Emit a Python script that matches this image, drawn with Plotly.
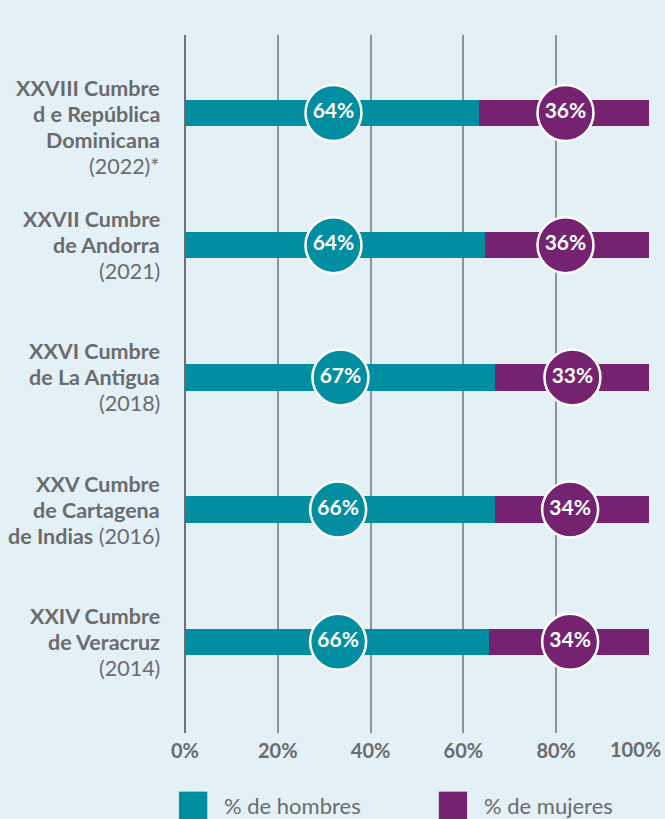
import plotly.graph_objects as go

# ---- data ----
cumbres = [
    ["<b>XXVIII Cumbre</b>", "<b>d e República</b>", "<b>Dominicana</b>", "(2022)*"],
    ["<b>XXVII Cumbre</b>", "<b>de Andorra</b>", "(2021)"],
    ["<b>XXVI Cumbre</b>", "<b>de La Antigua</b>", "(2018)"],
    ["<b>XXV Cumbre</b>", "<b>de Cartagena</b>", "<b>de Indias</b> (2016)"],
    ["<b>XXIV Cumbre</b>", "<b>de Veracruz</b>", "(2014)"],
]
hombres_bar = [63.4, 64.7, 66.9, 66.8, 65.6]
mujeres_bar = [36.6, 35.3, 33.1, 33.2, 34.4]
hombres_label = [64, 64, 67, 66, 66]
mujeres_label = [36, 36, 33, 34, 34]
x_ticks = [0, 20, 40, 60, 80, 100]
x_ticklabels = ["0%", "20%", "40%", "60%", "80%", "100%"]
series_names = ["% de hombres", "% de mujeres"]

TEAL = "#008ea0"
PURPLE = "#752270"
BG = "#e3f1f7"
GREY = "#6b6b6b"
FONT = "Lato"

rows = list(range(len(cumbres)))

fig = go.Figure()
fig.add_trace(go.Bar(y=rows, x=hombres_bar, orientation="h", width=0.2,
                     marker=dict(color=TEAL, line=dict(width=0)),
                     name=series_names[0], hoverinfo="skip"))
fig.add_trace(go.Bar(y=rows, x=mujeres_bar, orientation="h", width=0.2,
                     marker=dict(color=PURPLE, line=dict(width=0)),
                     name=series_names[1], hoverinfo="skip"))

# circles with labels
fig.add_trace(go.Scatter(
    x=[h / 2 for h in hombres_label], y=rows, mode="markers+text",
    marker=dict(size=56, color=TEAL, line=dict(color="white", width=2.5)),
    text=[f"{v}%" for v in hombres_label], textposition="middle center",
    textfont=dict(family=FONT, size=21, color="white", weight="bold"),
    hoverinfo="skip", showlegend=False, cliponaxis=False))
fig.add_trace(go.Scatter(
    x=[h + m / 2 for h, m in zip(hombres_label, mujeres_label)], y=rows,
    mode="markers+text",
    marker=dict(size=56, color=PURPLE, line=dict(color="white", width=2.5)),
    text=[f"{v}%" for v in mujeres_label], textposition="middle center",
    textfont=dict(family=FONT, size=21, color="white", weight="bold"),
    hoverinfo="skip", showlegend=False, cliponaxis=False))

# category labels, one annotation per line
LINE = 26
for i, lines in enumerate(cumbres):
    n = len(lines)
    start = 25 if n == 4 else LINE
    for j, txt in enumerate(lines):
        fig.add_annotation(x=0, xref="paper", y=i, yref="y", text=txt,
                           xanchor="right", yanchor="middle", align="right",
                           xshift=-23, yshift=start - j * LINE, showarrow=False,
                           font=dict(family=FONT, size=21.5, color=GREY))

# the last tick label sits flush against the right edge
tick_text_axis = x_ticklabels[:-1] + [""]
fig.add_annotation(x=x_ticks[-1], xref="x", y=0, yref="paper",
                   text=x_ticklabels[-1], xanchor="right", yanchor="top",
                   xshift=14, yshift=-2, showarrow=False,
                   font=dict(family=FONT, size=20, color=GREY, weight="bold"))

# custom legend
legend_items = [(series_names[0], TEAL, -0.013), (series_names[1], PURPLE, 0.547)]
for name, col, x0 in legend_items:
    fig.add_shape(type="rect", xref="paper", yref="paper",
                  x0=x0, x1=x0 + 0.061, y0=-0.125, y1=-0.084,
                  fillcolor=col, line=dict(width=0))
    fig.add_annotation(xref="paper", yref="paper", x=x0 + 0.093, y=-0.104,
                       text=name, xanchor="left", yanchor="middle",
                       showarrow=False,
                       font=dict(family=FONT, size=22, color=GREY))

fig.update_layout(
    width=665, height=819,
    margin=dict(l=185, r=16, t=35, b=86),
    paper_bgcolor=BG, plot_bgcolor=BG,
    barmode="stack", bargap=0,
    showlegend=False,
    font=dict(family=FONT, color=GREY),
    xaxis=dict(range=[0, 100], tickvals=x_ticks, ticktext=tick_text_axis,
               showgrid=True, gridcolor="#8d9398", gridwidth=1.5,
               zeroline=True, zerolinecolor="#707070", zerolinewidth=2,
               showline=False, ticks="", fixedrange=True,
               ticklabelstandoff=4,
               tickfont=dict(family=FONT, size=20, color=GREY, weight="bold")),
    yaxis=dict(range=[4.69, -0.59], showticklabels=False, showgrid=False,
               zeroline=False, showline=False, fixedrange=True),
)

fig.write_html("out.html", config={"displayModeBar": False},
               post_script="document.body.style.margin='0';"
                           "document.body.style.overflow='hidden';")
